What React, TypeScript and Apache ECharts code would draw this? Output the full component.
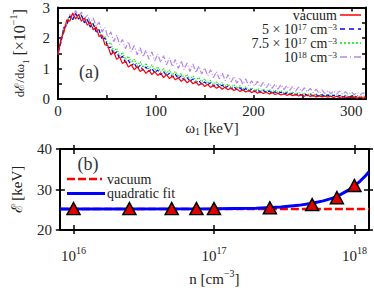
import React, { useEffect, useRef } from 'react';
import * as echarts from 'echarts';

// ---------- Panel (a): spectra dE/dω1 [×10^-1] sampled every 3 keV ----------
const energyStepKeV = 3;

const vacuumSpectrum = [
  1.45, 1.98, 2.18, 2.6, 2.55, 2.82, 2.62, 2.78, 2.55, 2.66,
  2.42, 2.52, 2.27, 2.36, 2.05, 2.1, 1.78, 1.75, 1.45, 1.55,
  1.3, 1.38, 1.16, 1.25, 1.05, 1.12, 0.96, 1.06, 0.9, 0.98,
  0.84, 0.95, 0.8, 0.9, 0.77, 0.85, 0.7, 0.8, 0.67, 0.76,
  0.63, 0.7, 0.58, 0.66, 0.53, 0.61, 0.5, 0.56, 0.45, 0.52,
  0.41, 0.48, 0.38, 0.45, 0.35, 0.41, 0.32, 0.39, 0.3, 0.36,
  0.28, 0.33, 0.25, 0.3, 0.23, 0.28, 0.21, 0.26, 0.19, 0.24,
  0.18, 0.23, 0.16, 0.21, 0.15, 0.18, 0.13, 0.17, 0.12, 0.16,
  0.11, 0.15, 0.1, 0.14, 0.09, 0.13, 0.08, 0.12, 0.07, 0.11,
  0.07, 0.1, 0.06, 0.09, 0.05, 0.09, 0.05, 0.08, 0.04, 0.07,
  0.04, 0.06, 0.03, 0.06, 0.03, 0.05,
];

const spectrum5e17 = [
  1.55, 1.85, 2.32, 2.42, 2.72, 2.6, 2.8, 2.62, 2.74, 2.5,
  2.6, 2.36, 2.46, 2.2, 2.27, 1.95, 2.0, 1.68, 1.7, 1.46,
  1.55, 1.33, 1.4, 1.2, 1.27, 1.09, 1.18, 1.0, 1.1, 0.94,
  1.05, 0.9, 1.0, 0.86, 0.95, 0.8, 0.9, 0.76, 0.85, 0.72,
  0.81, 0.67, 0.76, 0.62, 0.7, 0.58, 0.66, 0.53, 0.6, 0.49,
  0.56, 0.46, 0.53, 0.42, 0.5, 0.39, 0.46, 0.36, 0.43, 0.33,
  0.4, 0.31, 0.37, 0.28, 0.34, 0.26, 0.32, 0.24, 0.3, 0.22,
  0.28, 0.21, 0.26, 0.19, 0.24, 0.18, 0.22, 0.16, 0.2, 0.15,
  0.19, 0.13, 0.18, 0.12, 0.17, 0.11, 0.15, 0.1, 0.14, 0.09,
  0.14, 0.08, 0.13, 0.07, 0.12, 0.07, 0.11, 0.06, 0.1, 0.05,
  0.09, 0.05, 0.09, 0.04, 0.08, 0.04,
];

const spectrum75e17 = [
  1.55, 1.88, 2.35, 2.45, 2.72, 2.6, 2.8, 2.62, 2.76, 2.55,
  2.63, 2.4, 2.5, 2.24, 2.28, 2.0, 2.06, 1.8, 1.84, 1.58,
  1.66, 1.42, 1.52, 1.3, 1.4, 1.2, 1.3, 1.1, 1.22, 1.04,
  1.17, 0.99, 1.12, 0.94, 1.05, 0.89, 1.0, 0.84, 0.95, 0.79,
  0.9, 0.74, 0.85, 0.69, 0.8, 0.65, 0.75, 0.61, 0.7, 0.57,
  0.66, 0.52, 0.61, 0.48, 0.56, 0.46, 0.53, 0.42, 0.49, 0.39,
  0.46, 0.36, 0.43, 0.33, 0.4, 0.3, 0.37, 0.28, 0.34, 0.26,
  0.32, 0.25, 0.31, 0.23, 0.29, 0.21, 0.27, 0.19, 0.25, 0.17,
  0.23, 0.16, 0.22, 0.14, 0.2, 0.13, 0.19, 0.12, 0.18, 0.11,
  0.17, 0.1, 0.16, 0.09, 0.15, 0.08, 0.14, 0.08, 0.13, 0.07,
  0.12, 0.07, 0.11, 0.06, 0.11, 0.06,
];

const spectrum1e18 = [
  1.48, 1.85, 2.4, 2.48, 2.8, 2.62, 2.9, 2.7, 2.85, 2.6,
  2.78, 2.5, 2.66, 2.38, 2.52, 2.2, 2.35, 2.02, 2.2, 1.88,
  2.1, 1.78, 1.95, 1.65, 1.88, 1.55, 1.75, 1.45, 1.68, 1.38,
  1.6, 1.3, 1.55, 1.25, 1.48, 1.2, 1.42, 1.12, 1.35, 1.06,
  1.3, 1.0, 1.25, 0.96, 1.18, 0.9, 1.15, 0.86, 1.08, 0.82,
  1.02, 0.76, 0.96, 0.7, 0.9, 0.66, 0.85, 0.6, 0.8, 0.56,
  0.74, 0.52, 0.7, 0.48, 0.66, 0.44, 0.6, 0.42, 0.58, 0.39,
  0.55, 0.37, 0.52, 0.35, 0.49, 0.32, 0.47, 0.31, 0.44, 0.28,
  0.41, 0.26, 0.39, 0.24, 0.37, 0.23, 0.35, 0.21, 0.32, 0.19,
  0.3, 0.18, 0.28, 0.17, 0.27, 0.16, 0.26, 0.15, 0.24, 0.14,
  0.23, 0.14, 0.22, 0.13, 0.21, 0.13,
];

// ---------- Panel (b): mean energy vs density ----------
const densities = [1e16, 2.5e16, 5e16, 7.5e16, 1e17, 2.5e17, 5e17, 7.5e17, 1e18];
const meanEnergy = [25.3, 25.3, 25.3, 25.3, 25.3, 25.5, 26.3, 28.0, 31.0];

const fitDensity = [8e15, 1e17, 2e17, 3e17, 4e17, 5e17, 6e17, 7e17, 8e17, 9e17, 1e18, 1.1e18, 1.2e18, 1.27e18];
const fitEnergy = [25.2, 25.25, 25.4, 25.7, 26.1, 26.6, 27.2, 27.9, 28.8, 29.8, 30.9, 32.1, 33.4, 34.4];

const vacuumDensity = [8e15, 1.27e18];
const vacuumEnergy = [25.2, 25.2];

const densityTicks = [1e16, 1e17, 1e18];

// legend texts
const legendTextsA = ['vacuum', '5 × 10{sup|17} cm{sup|−3}', '7.5 × 10{sup|17} cm{sup|−3}', '10{sup|18} cm{sup|−3}'];
const legendTextsB = ['vacuum', 'quadratic fit'];

const FONT = '"Liberation Serif", "DejaVu Serif", serif';
const INK = '#222';

const RED = '#ff0000';
const BLUE = '#0000ff';
const GREEN = '#00e600';
const VIOLET = '#b585ea';

export default function App() {
  const ref = useRef<HTMLDivElement>(null);

  useEffect(() => {
    document.body.style.margin = '0';
    if (!ref.current) return;
    const chart = echarts.init(ref.current, undefined, { renderer: 'svg' });

    const energies = vacuumSpectrum.map((_, i) => i * energyStepKeV);
    const pairs = (ys: number[]) => ys.map((y, i) => [energies[i], y]);
    const zip = (xs: number[], ys: number[]) => xs.map((x, i) => [x, ys[i]]);

    const sup = { fontSize: 10, lineHeight: 10, verticalAlign: 'top', fontFamily: FONT, color: INK };
    const sub = { fontSize: 10, lineHeight: 10, verticalAlign: 'bottom', fontFamily: FONT, color: INK };
    const small = { fontSize: 13, fontFamily: FONT, color: INK, verticalAlign: 'middle' };

    const axisLine = { show: true, onZero: false, lineStyle: { color: '#000', width: 2 } };
    const tickIn = { show: true, inside: true, length: 4, lineStyle: { color: '#000', width: 1.5 } };
    const tickOut = { show: true, inside: false, length: 4, lineStyle: { color: '#000', width: 1.5 } };
    const noSplit = { show: false };
    const labelStyle = { fontFamily: FONT, fontSize: 15, color: INK };

    const xA = {
      gridIndex: 0, type: 'value', min: 0, max: 315, interval: 50,
      axisLine, axisTick: tickIn, splitLine: noSplit,
    };
    const yA = {
      gridIndex: 0, type: 'value', min: 0, max: 3, interval: 0.5,
      axisLine, axisTick: tickIn, splitLine: noSplit,
    };
    const xB = {
      gridIndex: 1, type: 'log', logBase: 10, min: 8e15, max: 1.27e18,
      axisLine, splitLine: noSplit, minorTick: { show: false },
    };
    const yB = {
      gridIndex: 1, type: 'value', min: 20, max: 40, interval: 10,
      axisLine, splitLine: noSplit,
    };

    // legend drawn as graphic elements
    const legendStylesA = [
      { stroke: RED, lineWidth: 1.5 },
      { stroke: BLUE, lineWidth: 1.5, lineDash: [5, 4] },
      { stroke: GREEN, lineWidth: 1.5, lineDash: [2, 2] },
      { stroke: VIOLET, lineWidth: 1.5, lineDash: [7, 3, 1, 3] },
    ];
    const legendRowYA = [15, 29, 43, 57];
    const legendA: any[] = [];
    legendTextsA.forEach((t, i) => {
      legendA.push({
        type: 'text', x: 337, y: legendRowYA[i], silent: true,
        style: {
          text: t, align: 'right', verticalAlign: 'middle',
          fontFamily: FONT, fontSize: 14, fill: INK, lineHeight: 13.5,
          rich: { sup: { ...sup, fontSize: 9, lineHeight: 9 } },
        },
      });
      legendA.push({
        type: 'line', silent: true,
        shape: { x1: 340, y1: legendRowYA[i], x2: 361, y2: legendRowYA[i] },
        style: legendStylesA[i],
      });
    });
    const legendStylesB = [
      { stroke: RED, lineWidth: 2.5, lineDash: [8, 3] },
      { stroke: BLUE, lineWidth: 3 },
    ];
    const legendRowYB = [179, 193.5];
    const legendB: any[] = [];
    legendTextsB.forEach((t, i) => {
      legendB.push({
        type: 'line', silent: true,
        shape: { x1: 67, y1: legendRowYB[i], x2: 102 + i * 3, y2: legendRowYB[i] },
        style: legendStylesB[i],
      });
      legendB.push({
        type: 'text', x: 107, y: legendRowYB[i], silent: true,
        style: { text: t, align: 'left', verticalAlign: 'middle', fontFamily: FONT, fontSize: 14, fill: INK, lineHeight: 14 },
      });
    });

    const option: any = {
      animation: false,
      backgroundColor: '#fff',
      textStyle: { fontFamily: FONT },
      grid: [
        { left: 52, top: 5, width: 314, height: 94 },
        { left: 52, top: 149, width: 317, height: 97 },
      ],
      xAxis: [
        {
          ...xA, position: 'bottom',
          axisLabel: {
            ...labelStyle, margin: 4,
            formatter: (v: number) => (v % 100 === 0 ? String(v) : ''),
          },
          name: 'ω{sub|1} [keV]', nameLocation: 'middle', nameGap: 15,
          nameTextStyle: { ...labelStyle, lineHeight: 18, rich: { sub } },
        },
        { ...xA, position: 'top', axisLabel: { show: false } },
        {
          ...xB, position: 'bottom',
          axisTick: { ...tickIn, length: 5, customValues: densityTicks },
          axisLabel: {
            ...labelStyle, margin: 15, lineHeight: 22, customValues: densityTicks,
            formatter: (v: number) => `10{sup|${Math.round(Math.log10(v))}}`,
            rich: { sup },
          },
          name: 'n [cm{sup|−3}]', nameLocation: 'middle', nameGap: 33,
          nameTextStyle: { ...labelStyle, lineHeight: 22, rich: { sup } },
        },
        { ...xB, position: 'bottom', axisTick: { ...tickOut, customValues: densityTicks }, axisLabel: { show: false } },
        { ...xB, position: 'top', axisTick: { ...tickIn, length: 5, customValues: densityTicks }, axisLabel: { show: false } },
        { ...xB, position: 'top', axisTick: { ...tickOut, customValues: densityTicks }, axisLabel: { show: false } },
      ],
      yAxis: [
        {
          ...yA, position: 'left',
          axisLabel: {
            ...labelStyle, margin: 8,
            formatter: (v: number) => (Number.isInteger(v) ? String(v) : ''),
          },
          name: '{small|dℰ/dω}{ssub|1} [×10{sup|−1}]', nameLocation: 'middle', nameGap: 28, nameRotate: 90,
          nameTextStyle: {
            ...labelStyle, fontSize: 16, lineHeight: 22,
            rich: { sup, small, ssub: { ...sub, fontSize: 9 } },
          },
        },
        { ...yA, position: 'right', axisLabel: { show: false } },
        {
          ...yB, position: 'left', axisTick: { ...tickIn, length: 5 },
          axisLabel: { ...labelStyle, margin: 8 },
          name: 'ℰ [keV]', nameLocation: 'middle', nameGap: 30, nameRotate: 90,
          nameTextStyle: { ...labelStyle, lineHeight: 18 },
        },
        { ...yB, position: 'left', axisTick: tickOut, axisLabel: { show: false } },
        { ...yB, position: 'right', axisTick: { ...tickIn, length: 5 }, axisLabel: { show: false } },
        { ...yB, position: 'right', axisTick: tickOut, axisLabel: { show: false } },
      ],
      graphic: [
        { type: 'text', x: 89, y: 72, silent: true, style: { text: '(a)', align: 'center', verticalAlign: 'middle', fontFamily: FONT, fontSize: 18, fill: '#333' } },
        { type: 'text', x: 88, y: 164, silent: true, style: { text: '(b)', align: 'center', verticalAlign: 'middle', fontFamily: FONT, fontSize: 18, fill: '#333' } },
        ...legendA,
        ...legendB,
      ],
      series: [
        {
          name: '10^18 cm^-3', type: 'line', xAxisIndex: 0, yAxisIndex: 0, symbol: 'none',
          data: pairs(spectrum1e18),
          lineStyle: { color: VIOLET, width: 1.2, type: [6, 2, 1, 2] },
        },
        {
          name: '7.5 × 10^17 cm^-3', type: 'line', xAxisIndex: 0, yAxisIndex: 0, symbol: 'none',
          data: pairs(spectrum75e17),
          lineStyle: { color: GREEN, width: 1.2, type: 'dotted' },
        },
        {
          name: '5 × 10^17 cm^-3', type: 'line', xAxisIndex: 0, yAxisIndex: 0, symbol: 'none',
          data: pairs(spectrum5e17),
          lineStyle: { color: BLUE, width: 1.2, type: [4, 2] },
        },
        {
          name: 'vacuum', type: 'line', xAxisIndex: 0, yAxisIndex: 0, symbol: 'none',
          data: pairs(vacuumSpectrum),
          lineStyle: { color: RED, width: 1.2 },
        },
        {
          name: 'vacuum (b)', type: 'line', xAxisIndex: 2, yAxisIndex: 2, symbol: 'none',
          data: zip(vacuumDensity, vacuumEnergy),
          lineStyle: { color: RED, width: 2.5, type: [8, 3] },
        },
        {
          name: 'quadratic fit', type: 'line', xAxisIndex: 2, yAxisIndex: 2, symbol: 'none',
          data: zip(fitDensity, fitEnergy),
          lineStyle: { color: BLUE, width: 3 },
        },
        {
          name: 'data', type: 'scatter', xAxisIndex: 2, yAxisIndex: 2, z: 5,
          symbol: 'triangle', symbolSize: [13, 12],
          data: zip(densities, meanEnergy),
          itemStyle: { color: '#e00000', borderColor: '#000', borderWidth: 1.5, opacity: 1 },
        },
      ],
    };

    chart.setOption(option);
    return () => chart.dispose();
  }, []);

  return <div ref={ref} style={{ width: 374, height: 291 }} />;
}
